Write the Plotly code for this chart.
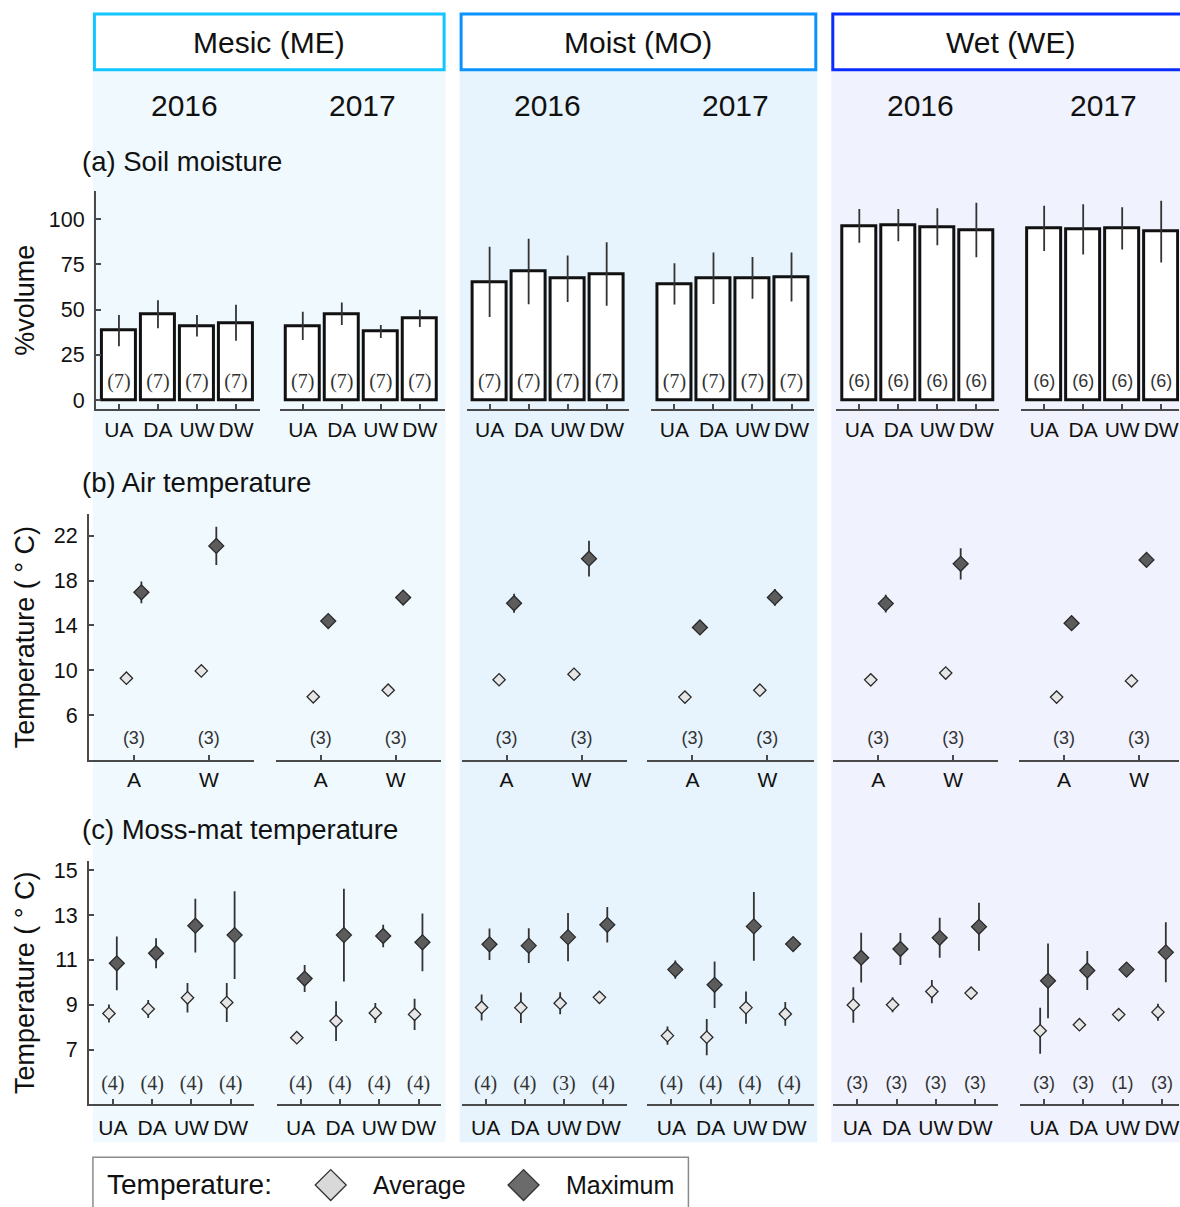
import plotly.graph_objects as go

W, H = 1180, 1207

# ---------------- data ----------------
sites = ["Mesic (ME)", "Moist (MO)", "Wet (WE)"]
years = ["2016", "2017"]
plots4 = ["UA", "DA", "UW", "DW"]
plots2 = ["A", "W"]

# (a) soil moisture, %volume: mean and error, panel order ME16, ME17, MO16, MO17, WE16, WE17
soil_mean = [
    [38.4, 47.5, 41.1, 42.8],
    [41.1, 47.7, 38.0, 45.2],
    [65.4, 71.1, 67.1, 69.7],
    [64.2, 67.3, 67.6, 68.0],
    [96.3, 96.7, 95.8, 94.0],
    [94.9, 94.3, 94.9, 93.1],
]
soil_err = [
    [8.6, 7.7, 5.9, 9.9],
    [7.8, 6.2, 3.6, 4.8],
    [19.4, 18.1, 12.8, 17.5],
    [11.4, 14.2, 11.5, 13.5],
    [9.3, 8.9, 10.2, 15.0],
    [12.5, 13.9, 11.7, 17.0],
]
soil_n = [
    [7, 7, 7, 7], [7, 7, 7, 7],
    [7, 7, 7, 7], [7, 7, 7, 7],
    [6, 6, 6, 6], [6, 6, 6, 6],
]

# (b) air temperature (°C)
air_avg = [
    [9.29, 9.94], [7.63, 8.22],
    [9.15, 9.64], [7.60, 8.22],
    [9.14, 9.75], [7.60, 9.05],
]
air_avg_err = [
    [0, 0], [0, 0], [0, 0], [0, 0], [0, 0], [0, 0],
]
air_max = [
    [16.96, 21.10], [14.39, 16.49],
    [15.98, 19.96], [13.82, 16.50],
    [15.95, 19.50], [14.20, 19.85],
]
air_max_err = [
    [0.97, 1.70], [0.15, 0.60],
    [0.85, 1.60], [0.15, 0.75],
    [0.80, 1.40], [0.10, 0.12],
]
air_n = [[3, 3]] * 6

# (c) moss-mat temperature (°C)
moss_avg = [
    [8.61, 8.81, 9.31, 9.10],
    [7.53, 8.27, 8.63, 8.57],
    [8.88, 8.87, 9.07, 9.33],
    [7.62, 7.55, 8.87, 8.59],
    [8.99, 9.00, 9.59, 9.52],
    [7.84, 8.11, 8.56, 8.67],
]
moss_avg_err = [
    [0.40, 0.40, 0.66, 0.87],
    [0.00, 0.89, 0.45, 0.70],
    [0.58, 0.68, 0.49, 0.00],
    [0.41, 0.81, 0.72, 0.53],
    [0.79, 0.33, 0.52, 0.12],
    [1.03, 0.00, 0.00, 0.38],
]
moss_max = [
    [10.85, 11.30, 12.53, 12.11],
    [10.17, 12.11, 12.07, 11.79],
    [11.70, 11.64, 12.02, 12.57],
    [10.57, 9.89, 12.50, 11.71],
    [11.10, 11.49, 11.99, 12.48],
    [10.07, 10.53, 10.57, 11.34],
]
moss_max_err = [
    [1.20, 0.67, 1.20, 1.96],
    [0.60, 2.07, 0.50, 1.29],
    [0.70, 0.78, 1.08, 0.79],
    [0.41, 1.04, 1.53, 0.00],
    [1.11, 0.71, 0.89, 1.07],
    [1.67, 0.87, 0.00, 1.34],
]
moss_n = [
    [4, 4, 4, 4], [4, 4, 4, 4],
    [4, 4, 3, 4], [4, 4, 4, 4],
    [3, 3, 3, 3], [3, 3, 1, 3],
]

# ---------------- style ----------------
SANS = "Liberation Sans, Arial, sans-serif"
SERIF = "Liberation Serif, Times New Roman, serif"
AXIS_COL = "#4a4a4a"
TXT = "#111111"
AVG_FILL = "#e6e6e6"
MAX_FILL = "#5c5c5c"
EDGE = "#2a2a2a"
site_line = ["#12c6ff", "#0a92ff", "#0a2cff"]
site_bg = ["#f0f9fd", "#e7f4fd", "#f0f2fd"]


def fx(px):
    return px / W


def fy(py):
    return 1 - py / H


# pixel spans of each panel column, per row
col_a = [(96, 260), (280, 445), (467, 630), (652, 815), (837, 1000), (1022, 1180)]
col_b = [(89, 254), (276, 441), (462, 628), (648, 815), (834, 999), (1020, 1180)]
col_c = [(89, 254), (277, 441), (462, 628), (648, 815), (834, 999), (1021, 1180)]
row_a = (190, 409)
row_b = (514, 761)
row_c = (863, 1107)

fig = go.Figure()
layout_axes = {}
ax_id = [0]


def new_axes(col, row, xr_unit, x0, tickvals, ticktext, yrange, ytickvals, show_y, standoff):
    ax_id[0] += 1
    i = ax_id[0]
    width = col[1] - col[0]
    xr = [x0, x0 + width / xr_unit]
    xname = "xaxis" if i == 1 else f"xaxis{i}"
    yname = "yaxis" if i == 1 else f"yaxis{i}"
    xref = "x" if i == 1 else f"x{i}"
    yref = "y" if i == 1 else f"y{i}"
    layout_axes[xname] = dict(
        domain=[fx(col[0]), fx(col[1])], anchor=yref, range=xr,
        showline=True, linecolor=AXIS_COL, linewidth=2,
        ticks="inside", ticklen=5, tickwidth=1.5, tickcolor=AXIS_COL,
        tickvals=tickvals, ticktext=ticktext, showgrid=False, zeroline=False,
        tickfont=dict(family=SANS, size=21, color=TXT), fixedrange=True,
        ticklabelstandoff=standoff, ticklabeloverflow="allow",
    )
    layout_axes[yname] = dict(
        domain=[fy(row[1]), fy(row[0])], anchor=xref, range=yrange,
        showgrid=False, zeroline=False, fixedrange=True,
        visible=True,
        showline=show_y, linecolor=AXIS_COL, linewidth=2,
        ticks="inside" if show_y else "", ticklen=5, tickwidth=1.5, tickcolor=AXIS_COL,
        tickvals=ytickvals if show_y else [], showticklabels=show_y,
        tickfont=dict(family=SANS, size=21.5, color=TXT),
        ticklabelstandoff=5, ticklabeloverflow="allow",
    )
    return xref, yref


pos4 = [1, 2, 3, 4]
pos2 = [1, 2]

for k in range(6):
    serif_counts = k < 4
    cfont = dict(family=SERIF if serif_counts else SANS,
                 size=20 if serif_counts else 18, color="#333333")

    # (a) soil moisture bars
    xr, yr = new_axes(col_a[k], row_a, 39.05, 0.41, pos4, plots4, [-5, 115.4],
                      [0, 25, 50, 75, 100], k == 0, 0)
    fig.add_trace(go.Bar(
        x=pos4, y=soil_mean[k], width=0.87, xaxis=xr, yaxis=yr,
        marker=dict(color="white", line=dict(color="#111111", width=3)),
        error_y=dict(type="data", array=soil_err[k], color="#333333",
                     thickness=1.8, width=0),
        showlegend=False, hoverinfo="skip",
    ))
    fig.add_trace(go.Scatter(
        x=pos4, y=[9.6] * 4, mode="text", text=[f"({n})" for n in soil_n[k]],
        textfont=cfont, xaxis=xr, yaxis=yr, showlegend=False, hoverinfo="skip",
    ))

    # (b) air temperature
    xr, yr = new_axes(col_b[k], row_b, 75.0, 0.4, pos2, plots2, [2, 23.96],
                      [6, 10, 14, 18, 22], k == 0, 0)
    fig.add_trace(go.Scatter(
        x=[p - 0.1 for p in pos2], y=air_avg[k], mode="markers",
        marker=dict(symbol="diamond", size=9.5, color=AVG_FILL,
                    line=dict(color=EDGE, width=1.3)),
        error_y=dict(type="data", array=air_avg_err[k], color="#333333",
                     thickness=1.8, width=0),
        xaxis=xr, yaxis=yr, showlegend=False, hoverinfo="skip",
    ))
    fig.add_trace(go.Scatter(
        x=[p + 0.1 for p in pos2], y=air_max[k], mode="markers",
        marker=dict(symbol="diamond", size=11.5, color=MAX_FILL,
                    line=dict(color=EDGE, width=1.3)),
        error_y=dict(type="data", array=air_max_err[k], color="#333333",
                     thickness=1.8, width=0),
        xaxis=xr, yaxis=yr, showlegend=False, hoverinfo="skip",
    ))
    fig.add_trace(go.Scatter(
        x=pos2, y=[3.85] * 2, mode="text", text=[f"({n})" for n in air_n[k]],
        textfont=dict(family=SANS, size=18, color="#333333"),
        xaxis=xr, yaxis=yr, showlegend=False, hoverinfo="skip",
    ))

    # (c) moss-mat temperature
    xr, yr = new_axes(col_c[k], row_c, 39.3, 0.39, pos4, plots4, [4.55, 15.4],
                      [7, 9, 11, 13, 15], k == 0, 3)
    fig.add_trace(go.Scatter(
        x=[p - 0.1 for p in pos4], y=moss_avg[k], mode="markers",
        marker=dict(symbol="diamond", size=9.5, color=AVG_FILL,
                    line=dict(color=EDGE, width=1.3)),
        error_y=dict(type="data", array=moss_avg_err[k], color="#333333",
                     thickness=1.8, width=0),
        xaxis=xr, yaxis=yr, showlegend=False, hoverinfo="skip",
    ))
    fig.add_trace(go.Scatter(
        x=[p + 0.1 for p in pos4], y=moss_max[k], mode="markers",
        marker=dict(symbol="diamond", size=11.5, color=MAX_FILL,
                    line=dict(color=EDGE, width=1.3)),
        error_y=dict(type="data", array=moss_max_err[k], color="#333333",
                     thickness=1.8, width=0),
        xaxis=xr, yaxis=yr, showlegend=False, hoverinfo="skip",
    ))
    fig.add_trace(go.Scatter(
        x=pos4, y=[5.42] * 4, mode="text", text=[f"({n})" for n in moss_n[k]],
        textfont=cfont, xaxis=xr, yaxis=yr, showlegend=False, hoverinfo="skip",
    ))

shapes = []
annotations = []

# site background bands and header boxes
site_x = [(93, 446), (460, 818), (832, 1190)]
for s, (x0, x1) in enumerate(site_x):
    shapes.append(dict(type="rect", xref="paper", yref="paper", layer="below",
                       x0=fx(x0), x1=fx(x1), y0=fy(1145), y1=fy(69),
                       fillcolor=site_bg[s], line=dict(width=0)))
    shapes.append(dict(type="rect", xref="paper", yref="paper", layer="above",
                       x0=fx(x0 + 1.5), x1=fx(x1 - 1.5), y0=fy(68), y1=fy(12),
                       fillcolor="white", line=dict(color=site_line[s], width=3)))
    annotations.append(dict(text=sites[s], xref="paper", yref="paper",
                            x=fx((x0 + x1) / 2), y=fy(41), showarrow=False,
                            xanchor="center", yanchor="middle",
                            font=dict(family=SANS, size=30, color=TXT)))

# year labels
year_x = [185, 363, 548, 736, 921, 1104]
for k, xc in enumerate(year_x):
    annotations.append(dict(text=years[k % 2], xref="paper", yref="paper",
                            x=fx(xc), y=fy(104), showarrow=False,
                            xanchor="center", yanchor="middle",
                            font=dict(family=SANS, size=30, color=TXT)))

# panel titles
for txt, yy in [("(a) Soil moisture", 160), ("(b) Air temperature", 483),
                ("(c) Moss-mat temperature", 831)]:
    annotations.append(dict(text=txt, xref="paper", yref="paper",
                            x=fx(80), y=fy(yy), showarrow=False,
                            xanchor="left", yanchor="middle",
                            font=dict(family=SANS, size=27.5, color=TXT)))

# y-axis titles
for txt, yy in [("%volume", 299), ("Temperature ( ° C)", 638), ("Temperature ( ° C)", 985)]:
    annotations.append(dict(text=txt, xref="paper", yref="paper",
                            x=fx(25), y=fy(yy), showarrow=False, textangle=-90,
                            xanchor="center", yanchor="middle",
                            font=dict(family=SANS, size=27, color=TXT)))

# key for the temperature markers
shapes.append(dict(type="rect", xref="paper", yref="paper", layer="above",
                   x0=fx(93), x1=fx(689), y0=fy(1215), y1=fy(1160),
                   fillcolor="white", line=dict(color="#8a8a8a", width=1.5)))
annotations.append(dict(text="Temperature:", xref="paper", yref="paper",
                        x=fx(105), y=fy(1187), showarrow=False,
                        xanchor="left", yanchor="middle",
                        font=dict(family=SANS, size=28, color=TXT)))


def diamond_path(cx, cy, r):
    return (f"M {fx(cx - r)},{fy(cy)} L {fx(cx)},{fy(cy - r)} "
            f"L {fx(cx + r)},{fy(cy)} L {fx(cx)},{fy(cy + r)} Z")


for cx, fill, label, lx in [(331, "#d9d9d9", "Average", 371),
                            (524, "#6b6b6b", "Maximum", 564)]:
    shapes.append(dict(type="path", xref="paper", yref="paper", layer="above",
                       path=diamond_path(cx, 1188, 15.5), fillcolor=fill,
                       line=dict(color="#333333", width=1.3)))
    annotations.append(dict(text=label, xref="paper", yref="paper",
                            x=fx(lx), y=fy(1188), showarrow=False,
                            xanchor="left", yanchor="middle",
                            font=dict(family=SANS, size=25, color=TXT)))

fig.update_layout(
    width=W, height=H,
    margin=dict(l=0, r=0, t=0, b=0),
    paper_bgcolor="white", plot_bgcolor="rgba(0,0,0,0)",
    showlegend=False, bargap=0,
    shapes=shapes, annotations=annotations,
    **layout_axes,
)

fig.write_html("out.html")
